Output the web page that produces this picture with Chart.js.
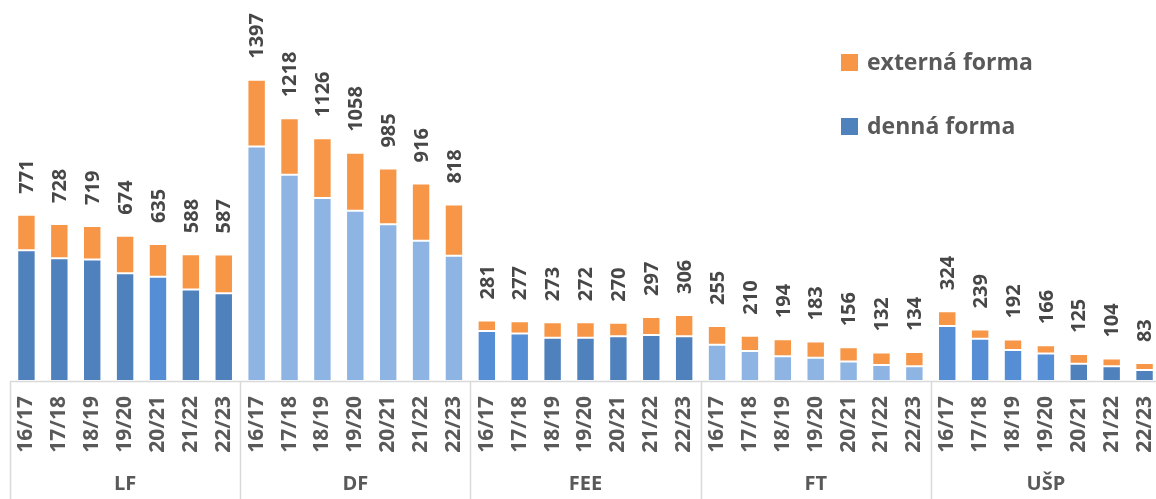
<!DOCTYPE html>
<html><head><meta charset="utf-8">
<script src="https://cdn.jsdelivr.net/npm/chart.js@4.4.0/dist/chart.umd.min.js"></script>
<style>
html,body{margin:0;padding:0;background:#fff;overflow:hidden;}
#wrap{position:relative;width:1161px;height:499px;}
</style></head>
<body>
<div id="wrap"><canvas id="chart"></canvas></div>
<script>
const GROUPS=["LF","DF","FEE","FT","UŠP"];
const YEARS=["16/17","17/18","18/19","19/20","20/21","21/22","22/23"];
const DENNA=[606,569,563,500,483,424,407, 1087,956,849,790,727,651,581, 232,220,201,201,207,213,207, 168,139,115,108,91,74,68, 255,196,144,127,80,68,51];
const EXTERNA=[165,159,156,174,152,164,180, 310,262,277,268,258,265,237, 49,57,72,71,63,84,99, 87,71,79,75,65,58,66, 69,43,48,39,45,36,32];
// shade of the blue part per bar: D dark, B bright, L light
const SHADES="DDDDBDD"+"LLLLLLL"+"BBDDDDD"+"LLLLLLL"+"BBBBDDD";

const COLORS={D:"#4f81bd",B:"#558ed5",L:"#8db4e2",orange:"#f79646",text:"#595959",label:"#474747",line:"#d9d9d9"};
const FONT="'Open Sans',sans-serif";

const labels=GROUPS.flatMap(()=>YEARS);
const groupOf=i=>GROUPS[Math.floor(i/7)];

const totalsPlugin={id:"totals",afterDatasetsDraw(chart){
  const ctx=chart.ctx,meta=chart.getDatasetMeta(1);
  ctx.save();
  ctx.fillStyle=COLORS.label;ctx.font="bold 20px "+FONT;
  ctx.textAlign="left";ctx.textBaseline="middle";
  meta.data.forEach((bar,i)=>{
    const v=DENNA[i]+EXTERNA[i];
    ctx.save();ctx.translate(bar.x+1,bar.y-21);ctx.rotate(-Math.PI/2);
    ctx.fillText(String(v),0,0);ctx.restore();
  });
  ctx.restore();
}};

const framePlugin={id:"frame",afterDraw(chart){
  const ctx=chart.ctx,x=chart.scales.x,a=chart.chartArea;
  const half=(x.getPixelForValue(1)-x.getPixelForValue(0))/2;
  ctx.save();ctx.strokeStyle=COLORS.line;ctx.lineWidth=1.5;
  ctx.beginPath();ctx.moveTo(a.left,a.bottom+0.5);ctx.lineTo(a.right,a.bottom+0.5);ctx.stroke();
  for(let g=0;g<=GROUPS.length;g++){
    const px=g<GROUPS.length?x.getPixelForValue(g*7)-half:x.getPixelForValue(labels.length-1)+half;
    ctx.beginPath();ctx.moveTo(Math.round(px)+0.5,a.bottom);ctx.lineTo(Math.round(px)+0.5,chart.height);ctx.stroke();
  }
  // legend
  const items=[{t:chart.data.datasets[1].label,c:COLORS.orange,y:63},{t:chart.data.datasets[0].label,c:COLORS.D,y:127}];
  ctx.font="bold 23px "+FONT;ctx.textBaseline="middle";ctx.textAlign="left";
  items.forEach(it=>{
    ctx.fillStyle=it.c;ctx.fillRect(841,it.y-9,17,17);
    ctx.fillStyle=COLORS.text;ctx.fillText(it.t,867,it.y);
  });
  ctx.restore();
}};

const noPad=h=>s=>{s.height=h;s.paddingLeft=0;s.paddingRight=0;};

new Chart(document.getElementById("chart"),{
  type:"bar",
  data:{labels,datasets:[
    {label:"denná forma",data:DENNA,backgroundColor:[...SHADES].map(s=>COLORS[s]),borderColor:"rgba(255,255,255,0.7)",borderWidth:1,borderSkipped:false},
    {label:"externá forma",data:EXTERNA,backgroundColor:COLORS.orange,borderColor:"rgba(255,255,255,0.7)",borderWidth:1,borderSkipped:false}
  ]},
  options:{
    responsive:true,maintainAspectRatio:false,animation:false,
    layout:{padding:{left:10,right:0,top:36,bottom:0}},
    datasets:{bar:{barPercentage:0.56,categoryPercentage:1}},
    plugins:{legend:{display:false},tooltip:{enabled:false}},
    scales:{
      x:{stacked:true,grid:{display:false,drawTicks:false},border:{display:false},
        afterFit:noPad(88),
        ticks:{autoSkip:false,minRotation:90,maxRotation:90,padding:15,color:COLORS.text,font:{family:FONT,size:21,weight:"bold"}}},
      x2:{position:"bottom",grid:{display:false,drawTicks:false},border:{display:false},
        afterFit:noPad(30),
        ticks:{autoSkip:false,maxRotation:0,minRotation:0,padding:3,color:COLORS.text,font:{family:FONT,size:20,weight:"bold"},
          callback:(v,i)=>i%7===3?groupOf(i):""}},
      y:{stacked:true,display:false,min:0,max:1600}
    }
  },
  plugins:[totalsPlugin,framePlugin]
});
</script>
</body></html>
